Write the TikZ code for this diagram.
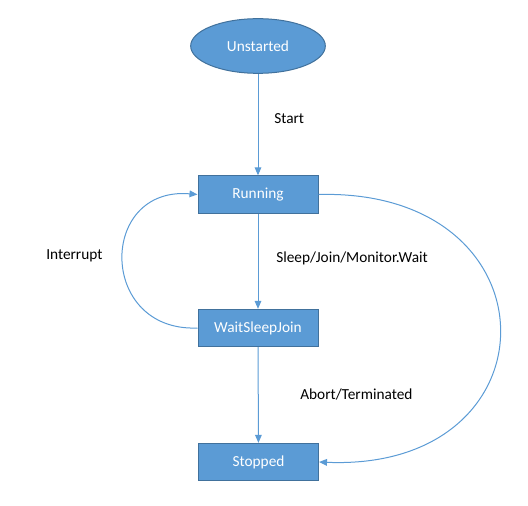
\documentclass[tikz,border=0pt]{standalone}
\usepackage{fontspec}
\setmainfont{Carlito}
\usetikzlibrary{arrows.meta}
\usetikzlibrary{shapes.geometric}
\definecolor{sblue}{HTML}{5B9BD5}
\definecolor{sedge}{HTML}{41719C}
\tikzset{state/.style = {draw = sedge, fill = sblue, line width = 0.75pt, text = white,
    minimum width = 90pt, minimum height = 28pt, inner sep = 0}}
\tikzset{startstate/.style = {state, ellipse, minimum width = 101pt, minimum height = 41pt}}
\tikzset{trans/.style = {draw = sblue, line width = 0.75pt, -{Triangle[length = 6pt, width = 5pt]}}}
\tikzset{label text/.style = {anchor = west, inner sep = 0}}

\begin{document}
\begin{tikzpicture}[x = 0.75pt, y = -0.75pt, font = \fontsize{11.5}{13}\selectfont]
    \useasboundingbox (0, 0) rectangle (528, 506);

    \node [startstate] (unstarted) at (258, 46) {Unstarted};
    \node [state] (running) at (258, 194.5) {Running};
    \node [state] (waitsleepjoin) at (258, 328) {WaitSleepJoin};
    \node [state] (stopped) at (258.5, 462) {Stopped};

    \draw [trans] (unstarted) -- (running);
    \draw [trans] (running) -- (waitsleepjoin);
    \draw [trans] (waitsleepjoin) -- (stopped);

    \draw [trans] (waitsleepjoin.west) .. controls (98, 332) and (98, 186) .. (running.west);
    \draw [trans] (running.east) .. controls (560, 188) and (560, 472) .. (stopped.east);

    \node [label text] (lstart) at (274, 119) {Start};
    \node [label text] (lsleep) at (276, 258) {Sleep/Join/Monitor.Wait};
    \node [label text] (linterrupt) at (46, 256) {Interrupt};
    \node [label text] (labort) at (300, 394) {Abort/Terminated};
  \end{tikzpicture}
\end{document}
